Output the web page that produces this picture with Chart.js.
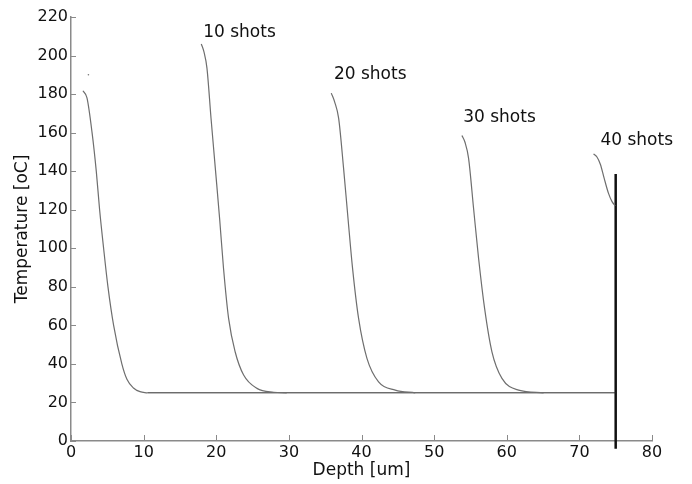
<!DOCTYPE html>
<html>
<head>
<meta charset="utf-8">
<script src="https://cdn.jsdelivr.net/npm/chart.js@4"></script>
<style>
  body { margin: 0; background: #fff; }
  #box { width: 692px; height: 484px; }
</style>
</head>
<body>
<div id="box"><canvas id="graph"></canvas></div>
<script>
// temperature profiles after n shots
var depth0 = [1.65, 2.2, 2.9, 3.48, 3.94, 4.49, 5.09, 5.87, 7.0, 7.7, 8.6, 9.5, 10.5];
var temp0 = [181.7, 178, 160, 140, 120, 100, 80, 60, 40, 32, 27.5, 25.6, 25];

var depth10 = [17.94, 18.3, 18.72, 19.28, 19.87, 20.46, 21.0, 21.7, 22.6, 23.77, 25.6, 27.9, 29.7];
var temp10 = [206.0, 202, 193.5, 167.5, 141.6, 115.6, 89.6, 63.6, 46.3, 34.2, 27.3, 25.3, 25];

var depth20 = [35.84, 36.3, 36.85, 37.53, 38.14, 38.77, 39.6, 40.75, 42.35, 44.65, 47.4];
var temp20 = [180.5, 176, 167.5, 141.6, 115.6, 89.6, 63.6, 42.9, 30.7, 26.4, 25];

var depth30 = [53.83, 54.25, 54.74, 55.43, 56.12, 56.95, 57.96, 59.34, 61.63, 65.07];
var temp30 = [158.5, 155, 146.8, 120.8, 94.8, 68.8, 46.3, 32.5, 26.4, 25];

var depth40 = [71.95, 72.4, 72.9, 73.4, 74.0, 74.5, 74.94];
var temp40 = [149, 147.5, 143.5, 136.5, 128.6, 124.2, 122];

// ambient line and the wall at 75 um
var baseDepth = [10.5, 75];
var baseTemp = [25, 25];
var wallDepth = [75, 75];
var wallTemp = [138.6, -4];

var dotDepth = [2.4];
var dotTemp = [190];

var shotLabels = ["10 shots", "20 shots", "30 shots", "40 shots"];
var shotLabelDepth = [18.2, 36.2, 54.0, 72.9];
var shotLabelTemp = [211.8, 190, 167.7, 155.7];

var xTicks = [0, 10, 20, 30, 40, 50, 60, 70, 80];
var yTicks = [0, 20, 40, 60, 80, 100, 120, 140, 160, 180, 200, 220];

function pts(xs, ys) {
  var out = [];
  for (let i = 0; i < xs.length; i++) {
    out.push({ x: xs[i], y: ys[i] });
  }
  return out;
}

function curve(xs, ys) {
  return {
    data: pts(xs, ys),
    showLine: true,
    borderColor: "#6e6e6e",
    borderWidth: 1.2,
    pointRadius: 0,
    cubicInterpolationMode: "monotone",
  };
}

var fontName = "'DejaVu Sans', sans-serif";

// inward tick marks like the original plot
var innerTicks = {
  id: "innerTicks",
  afterDraw: function (chart) {
    var ctx = chart.ctx;
    var xs = chart.scales.x;
    var ys = chart.scales.y;
    var area = chart.chartArea;
    ctx.save();
    ctx.strokeStyle = "#8a8a8a";
    ctx.lineWidth = 1;
    ctx.beginPath();
    xTicks.forEach(function (v) {
      var px = Math.round(xs.getPixelForValue(v)) + 0.5;
      ctx.moveTo(px, area.bottom);
      ctx.lineTo(px, area.bottom - 6);
    });
    yTicks.forEach(function (v) {
      var py = Math.round(ys.getPixelForValue(v)) + 0.5;
      ctx.moveTo(area.left, py);
      ctx.lineTo(area.left + 5, py);
    });
    ctx.stroke();
    ctx.restore();
  },
};

var shotText = {
  id: "shotText",
  afterDatasetsDraw: function (chart) {
    var ctx = chart.ctx;
    ctx.save();
    ctx.font = "17px " + fontName;
    ctx.fillStyle = "#111";
    ctx.textAlign = "left";
    ctx.textBaseline = "middle";
    for (let i = 0; i < shotLabels.length; i++) {
      ctx.fillText(
        shotLabels[i],
        chart.scales.x.getPixelForValue(shotLabelDepth[i]),
        chart.scales.y.getPixelForValue(shotLabelTemp[i])
      );
    }
    ctx.restore();
  },
};

var data = {
  datasets: [
    curve(depth0, temp0),
    curve(depth10, temp10),
    curve(depth20, temp20),
    curve(depth30, temp30),
    curve(depth40, temp40),
    {
      data: pts(baseDepth, baseTemp),
      showLine: true,
      borderColor: "#2a2a2a",
      borderWidth: 1,
      pointRadius: 0,
    },
    {
      data: pts(wallDepth, wallTemp),
      showLine: true,
      borderColor: "#111",
      borderWidth: 2.5,
      pointRadius: 0,
      clip: false,
    },
    {
      data: pts(dotDepth, dotTemp),
      pointRadius: 0.8,
      pointBackgroundColor: "#777",
      pointBorderWidth: 0,
    },
  ],
};

var options = {
  responsive: true,
  maintainAspectRatio: false,
  animation: false,
  layout: { padding: { left: 0, right: 40, top: 17, bottom: 0 } },
  plugins: { legend: { display: false }, tooltip: { enabled: false } },
  scales: {
    x: {
      type: "linear",
      min: 0,
      max: 80,
      afterFit: function (s) { s.height = 43; },
      afterBuildTicks: function (s) { s.ticks = xTicks.map(function (v) { return { value: v }; }); },
      grid: { drawOnChartArea: false, drawTicks: false },
      border: { color: "#8a8a8a", width: 1.5 },
      ticks: { color: "#111", padding: 2, font: { family: fontName, size: 16 } },
      title: {
        display: true,
        text: "Depth [um]",
        color: "#111",
        padding: { top: 0, bottom: 3 },
        font: { family: fontName, size: 17 },
      },
    },
    y: {
      type: "linear",
      min: 0,
      max: 220,
      afterFit: function (s) { s.width = 71; },
      afterBuildTicks: function (s) { s.ticks = yTicks.map(function (v) { return { value: v }; }); },
      grid: { drawOnChartArea: false, drawTicks: false },
      border: { color: "#8a8a8a", width: 1.5 },
      ticks: { color: "#111", padding: 3, font: { family: fontName, size: 16 } },
      title: {
        display: true,
        text: "Temperature [oC]",
        color: "#111",
        padding: { top: 12, bottom: 0 },
        font: { family: fontName, size: 17 },
      },
    },
  },
};

var config = {
  type: "scatter",
  data: data,
  options: options,
  plugins: [innerTicks, shotText],
};

var graph = new Chart(document.getElementById("graph").getContext("2d"), config);
</script>
</body>
</html>
